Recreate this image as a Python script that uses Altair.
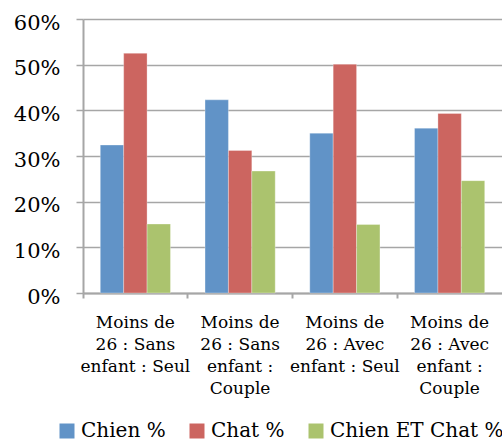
import altair as alt
import pandas as pd

# Household categories (full names) and the way each one is wrapped on the axis
categories = [
    "Moins de 26 : Sans enfant : Seul",
    "Moins de 26 : Sans enfant : Couple",
    "Moins de 26 : Avec enfant : Seul",
    "Moins de 26 : Avec enfant : Couple",
]
category_lines = [
    ["Moins de", "26 : Sans", "enfant : Seul"],
    ["Moins de", "26 : Sans", "enfant :", "Couple"],
    ["Moins de", "26 : Avec", "enfant : Seul"],
    ["Moins de", "26 : Avec", "enfant :", "Couple"],
]

series = ["Chien %", "Chat %", "Chien ET Chat %"]
colors = ["#6193C7", "#CC6560", "#ABC36E"]

chien = [0.324, 0.423, 0.350, 0.361]
chat = [0.525, 0.312, 0.501, 0.393]
chien_et_chat = [0.151, 0.267, 0.150, 0.246]

rows = []
for i, cat in enumerate(categories):
    for name, vals in zip(series, [chien, chat, chien_et_chat]):
        rows.append({"categorie": cat, "serie": name, "valeur": vals[i]})
df = pd.DataFrame(rows)

# Multi-line axis labels: map each category to its list of lines
pairs = ", ".join(
    "'{}': [{}]".format(c, ", ".join("'{}'".format(l) for l in lines))
    for c, lines in zip(categories, category_lines)
)
label_expr = "({" + pairs + "})[datum.label]"

FONT = "DejaVu Serif"
GRID = "#A6A6A6"

chart = (
    alt.Chart(df)
    .mark_bar(stroke="white", strokeWidth=0.6, strokeOpacity=0.5)
    .encode(
        x=alt.X(
            "categorie:N",
            sort=categories,
            title=None,
            scale=alt.Scale(paddingInner=0.33, paddingOuter=0.165),
            axis=alt.Axis(
                labelExpr=label_expr,
                labelAngle=0,
                labelFontSize=17,
                labelLineHeight=22,
                labelPadding=16,
                labelLimit=300,
                tickSize=5,
                tickColor=GRID,
                tickWidth=2,
                bandPosition=-0.246,
                domainColor=GRID,
                domainWidth=2,
                grid=False,
            ),
        ),
        xOffset=alt.XOffset("serie:N", sort=series),
        y=alt.Y(
            "valeur:Q",
            title=None,
            scale=alt.Scale(domain=[0, 0.6], nice=False),
            axis=alt.Axis(
                format=".0%",
                values=[0, 0.1, 0.2, 0.3, 0.4, 0.5, 0.6],
                labelFontSize=21,
                labelPadding=16,
                labelOffset=4,
                tickSize=7,
                tickColor=GRID,
                tickWidth=1.5,
                domainColor=GRID,
                domainWidth=2,
                grid=True,
                gridColor=GRID,
                gridWidth=1.5,
            ),
        ),
        color=alt.Color(
            "serie:N",
            sort=series,
            scale=alt.Scale(domain=series, range=colors),
            legend=alt.Legend(
                title=None,
                orient="none",
                direction="horizontal",
                legendX=-26,
                legendY=402,
                padding=0,
                symbolType="square",
                symbolSize=225,
                symbolStrokeWidth=0,
                labelFontSize=20,
                labelOffset=4,
                columnPadding=21,
                labelLimit=400,
            ),
        ),
    )
    .properties(
        width=419,
        height=274,
        autosize=alt.AutoSizeParams(type="none"),
        padding={"left": 83, "top": 19, "right": 0, "bottom": 151},
    )
    .configure(font=FONT)
    .configure_axis(labelFont=FONT, labelColor="black")
    .configure_legend(labelFont=FONT, labelColor="black")
    .configure_view(stroke=None)
)

chart.save("out.html", embed_options={"renderer": "svg", "actions": False})
